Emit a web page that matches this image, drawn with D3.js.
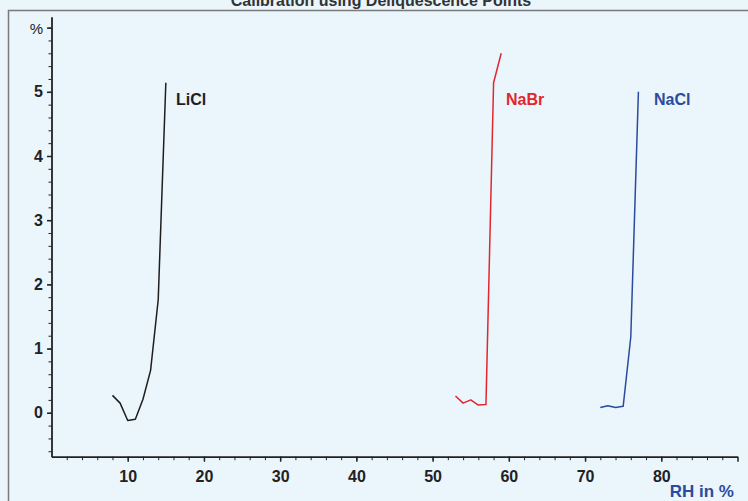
<!DOCTYPE html>
<html lang="en">
<head>
<meta charset="UTF-8">
<script src="https://d3js.org/d3.v7.min.js"></script>
<style>
  body { margin: 0; background: #eaf5fc; }
  svg { display: block; font-family: "Liberation Sans", Arial, sans-serif; }
  .axis path, .axis line { stroke: #222; }
  .axis text { font-size: 16px; font-weight: bold; fill: #222; }
</style>
</head>
<body>
<svg class="chart"></svg>
<script>

// data: RH in %, mass change in %
const liclRH = [8, 9, 10, 11, 12, 13, 14, 15];
const liclVal = [0.27, 0.15, -0.12, -0.10, 0.21, 0.66, 1.76, 5.14];

const nabrRH = [53, 54, 55, 56, 57, 58, 59];
const nabrVal = [0.26, 0.15, 0.20, 0.12, 0.13, 5.14, 5.60];

const naclRH = [72, 73, 74, 75, 76, 77];
const naclVal = [0.08, 0.11, 0.08, 0.10, 1.18, 5.0];

const xLabels = [10, 20, 30, 40, 50, 60, 70, 80];
const yLabels = [0, 1, 2, 3, 4, 5];

const series = [
  {name: "LiCl", rh: liclRH, val: liclVal, color: "#1e1e1e", labelAt: 176},
  {name: "NaBr", rh: nabrRH, val: nabrVal, color: "#e3262e", labelAt: 506},
  {name: "NaCl", rh: naclRH, val: naclVal, color: "#2b4b9e", labelAt: 654}
];

const W = 748, H = 501;

const svg = d3.select(".chart")
    .attr("width", W)
    .attr("height", H);

// frame
svg.append("rect")
    .attr("x", 8.5).attr("y", 10.5)
    .attr("width", 800).attr("height", 600)
    .attr("fill", "#eaf5fc")
    .attr("stroke", "#7a7a7a")
    .attr("stroke-width", 1.5);

// title (cut off at the top in the original)
svg.append("text")
    .attr("x", 381).attr("y", 6)
    .attr("text-anchor", "middle")
    .style("font-size", "16px").style("font-weight", "bold")
    .attr("fill", "#333")
    .text("Calibration using Deliquescence Points");

let x = d3.scaleLinear()
    .domain([0, 90])
    .range([51.5, 737.5]);

let y = d3.scaleLinear()
    .domain([-0.685, 6.17])
    .range([456.7, 16.7]);

// x axis: minor every 2, major every 10
svg.append("g")
    .attr("class", "axis")
    .attr("transform", `translate(0,${y.range()[0]})`)
    .call(d3.axisBottom(x).tickValues(d3.range(2, 90, 2)).tickSize(3.5).tickSizeOuter(0).tickFormat(""))
    .call(g => g.select(".domain").attr("stroke-width", 1.8));

svg.append("g")
    .attr("class", "axis")
    .attr("transform", `translate(0,${y.range()[0]})`)
    .call(d3.axisBottom(x).tickValues(xLabels.concat([90])).tickSize(5).tickSizeOuter(0).tickPadding(9)
      .tickFormat(d => d === 90 ? "" : d))
    .call(g => g.select(".domain").remove())
    .selectAll("line").attr("stroke-width", 1.5);

// y axis: minor every 0.2
const yMinor = d3.range(-3, 31).map(i => i / 5);
svg.append("g")
    .attr("class", "axis")
    .attr("transform", `translate(${x.range()[0]},0)`)
    .call(d3.axisLeft(y).tickValues(yMinor).tickSize(3).tickSizeOuter(0).tickFormat(""))
    .call(g => g.select(".domain").attr("stroke-width", 1.8));

svg.append("g")
    .attr("class", "axis")
    .attr("transform", `translate(${x.range()[0]},0)`)
    .call(d3.axisLeft(y).tickValues(yLabels.concat([6])).tickSize(4.5).tickSizeOuter(0).tickPadding(4)
      .tickFormat(d => d === 6 ? "%" : d))
    .call(g => g.select(".domain").remove())
    .call(g => g.selectAll("text").filter(d => d === 6)
      .style("font-weight", "normal").style("font-size", "15px").attr("fill", "#333").attr("dy", "0.4em"))
    .selectAll("line").attr("stroke-width", 1.5);

// axis title
svg.append("text")
    .attr("x", 734).attr("y", 497)
    .attr("text-anchor", "end")
    .style("font-size", "17px").style("font-weight", "bold")
    .attr("fill", "#2b4b9e")
    .text("RH in %");

// curves
const line = d3.line()
    .x(d => x(d[0]))
    .y(d => y(d[1]));

series.forEach(s => {
  const pts = s.rh.map((r, i) => [r, s.val[i]]);
  svg.append("path")
      .datum(pts)
      .attr("fill", "none")
      .attr("stroke", s.color)
      .attr("stroke-width", 1.5)
      .attr("stroke-linejoin", "round")
      .attr("d", line);

  svg.append("text")
      .attr("x", s.labelAt).attr("y", 105)
      .style("font-size", "16px").style("font-weight", "bold")
      .attr("fill", s.color)
      .text(s.name);
});

</script>
</body>
</html>
